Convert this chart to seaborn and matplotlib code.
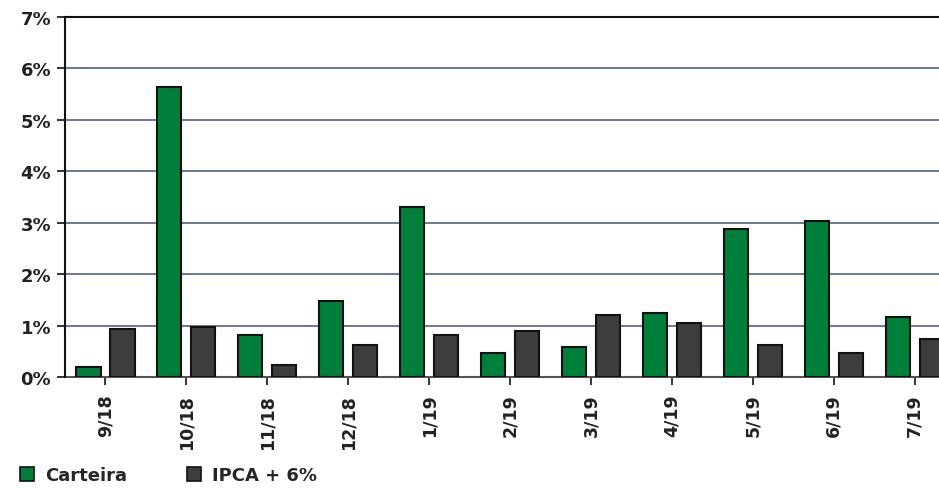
import matplotlib
matplotlib.use("Agg")
import matplotlib.pyplot as plt
import seaborn as sns
import pandas as pd
from matplotlib.ticker import FuncFormatter

# data (monthly returns, %)
months = ["9/18", "10/18", "11/18", "12/18", "1/19", "2/19", "3/19", "4/19", "5/19", "6/19", "7/19"]
carteira = [0.19, 5.64, 0.82, 1.48, 3.31, 0.47, 0.58, 1.25, 2.88, 3.04, 1.17]
ipca6 = [0.93, 0.97, 0.23, 0.62, 0.82, 0.89, 1.20, 1.05, 0.62, 0.47, 0.74]
series = ["Carteira", "IPCA + 6%"]

df = pd.DataFrame({
    "mes": months * 2,
    "valor": carteira + ipca6,
    "serie": [series[0]] * len(months) + [series[1]] * len(months),
})

sns.set_style("white")
plt.rcParams["font.family"] = ["DejaVu Sans"]

fig = plt.figure(figsize=(9.39, 4.89), dpi=100)
ax = fig.add_axes([65 / 939, 111 / 489, (939 - 65) / 939, 360 / 489])

colors = {"Carteira": "#007f3b", "IPCA + 6%": "#3d3d3d"}
sns.barplot(data=df, x="mes", y="valor", hue="serie", palette=colors,
            width=0.84, gap=0.29, edgecolor="#111111", linewidth=1.5,
            saturation=1, legend=False, ax=ax, zorder=3)

ax.set_ylim(0, 7)
ax.set_xlim(-0.5, 10.3)
ax.set_yticks(range(0, 8))
ax.yaxis.set_major_formatter(FuncFormatter(lambda v, p: f"{int(v)}%"))
ax.grid(axis="y", color="#4f6486", linewidth=1.2, zorder=0)
ax.set_xlabel("")
ax.set_ylabel("")

for s in ["left", "top"]:
    ax.spines[s].set_color("#111111")
    ax.spines[s].set_linewidth(1.5)
ax.spines["bottom"].set_color("#555555")
ax.spines["bottom"].set_linewidth(1.5)
ax.spines["right"].set_visible(False)
ax.spines["left"].set_zorder(4)

ax.tick_params(axis="y", left=True, length=6, width=1.2, color="#111111",
               labelsize=13, labelcolor="#222222", pad=4)
ax.tick_params(axis="x", bottom=True, length=6, width=1.2, color="#111111",
               labelsize=12.5, labelcolor="#222222", rotation=90, pad=6)
for lbl in ax.get_yticklabels() + ax.get_xticklabels():
    lbl.set_fontweight("bold")

handles = [plt.Rectangle((0, 0), 1, 1, facecolor=colors[s], edgecolor="#111111", linewidth=1.2)
           for s in series]
fig.legend(handles, series, loc="lower left", bbox_to_anchor=(0.004, -0.025), ncol=2,
           frameon=False, handlelength=0.8, handleheight=0.8, handletextpad=0.6,
           columnspacing=3.3, prop={"size": 13, "weight": "bold"})

fig.savefig("out.png", dpi=100)
